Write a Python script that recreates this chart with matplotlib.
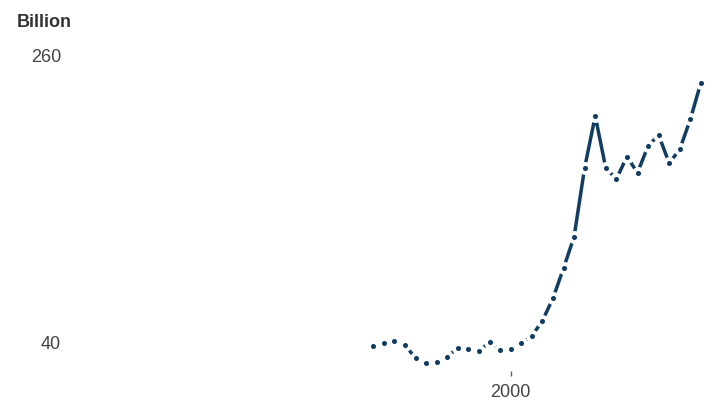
import matplotlib.pyplot as plt

# データ
years = list(range(1987, 2019))
values = [38.0, 39.8, 41.5, 38.5, 28.3, 24.5, 25.3, 29.1, 36.4, 35.7, 34.1,
          40.5, 34.7, 35.7, 39.8, 45.3, 57.0, 74.1, 97.1, 121.2, 173.9, 213.4,
          173.5, 165.3, 182.3, 170.1, 190.5, 198.9, 177.3, 188.0, 210.9, 238.9]
x_ticks = [2000]
y_ticks = [40, 260]
unit_label = "Billion"

plt.rcParams['font.family'] = ['Liberation Sans', 'DejaVu Sans']

fig = plt.figure(figsize=(7.12, 4.09), dpi=100)
ax = fig.add_axes([66.8 / 712, 38 / 409, (706.2 - 66.8) / 712, (354 - 38) / 409])

ax.plot(years, values, color='#123d62', linewidth=2.5, marker='o',
        markersize=6.5, markerfacecolor='#123d62', markeredgecolor='white',
        markeredgewidth=2.8, clip_on=False)

ax.set_xlim(1958, 2018.5)
ax.set_ylim(18.6, 260)
ax.set_xticks(x_ticks)
ax.set_xticklabels([str(t) for t in x_ticks])
ax.set_yticks(y_ticks)
ax.set_yticklabels([str(t) for t in y_ticks])

ax.tick_params(axis='x', length=3.5, width=1, color='#666666', pad=6,
               labelsize=13, labelcolor='#444444')
ax.tick_params(axis='y', length=0, pad=4, labelsize=13, labelcolor='#444444')

for s in ax.spines.values():
    s.set_visible(False)

fig.text(17 / 712, 1 - 14 / 409, unit_label, ha='left', va='top',
         fontsize=13, fontweight='bold', color='#333333')

plt.savefig('out.png', dpi=100)
